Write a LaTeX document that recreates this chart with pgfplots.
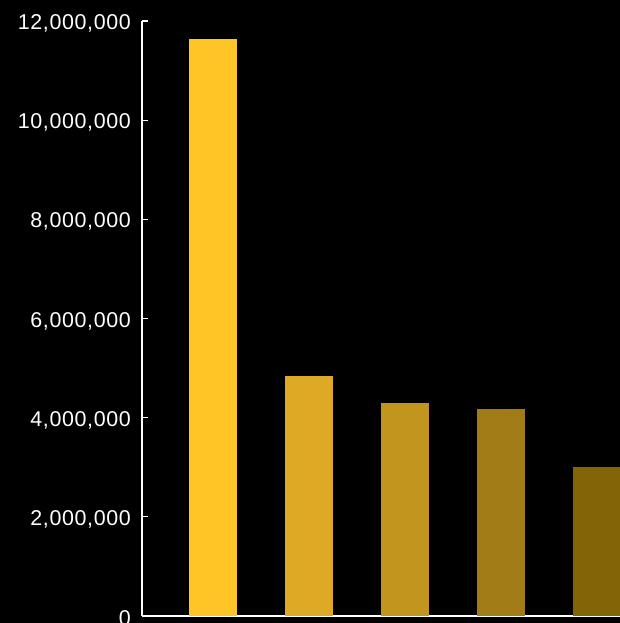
\documentclass[border=0pt]{standalone}
\usepackage{pgfplots}
\pgfplotsset{compat=1.18}
\usepackage{fontspec}
\setmainfont{Liberation Sans}[LetterSpace=3]

\definecolor{barA}{RGB}{255,196,38}
\definecolor{barB}{RGB}{222,170,38}
\definecolor{barC}{RGB}{194,149,30}
\definecolor{barD}{RGB}{161,124,22}
\definecolor{barE}{RGB}{131,101,8}

\begin{document}
\begin{tikzpicture}
\fill[black] (-142bp,-7bp) rectangle (478bp,616bp);
\begin{axis}[
  scale only axis,
  width=478bp, height=595bp,
  xmin=-0.74, xmax=4.24,
  ymin=0, ymax=12000000,
  axis x line=bottom, axis y line=left,
  axis line style={white, line width=1.3bp, -},
  xtick=\empty,
  ytick={0,2000000,4000000,6000000,8000000,10000000,12000000},
  tick style={white, line width=1.3bp},
  major tick length=6bp,
  tick align=inside,
  scaled y ticks=false,
  yticklabel style={
    /pgf/number format/fixed,
    /pgf/number format/1000 sep={,},
    /pgf/number format/assume math mode=true,
    font=\fontsize{21.5}{21.5}\selectfont, text=white,
    inner sep=0pt, xshift=-11bp, yshift=-2.5bp},
]
\addplot[ybar, bar width=0.5, fill=barA, draw=none] coordinates {(0,11640000)};
\addplot[ybar, bar width=0.5, fill=barB, draw=none] coordinates {(1,4840000)};
\addplot[ybar, bar width=0.5, fill=barC, draw=none] coordinates {(2,4300000)};
\addplot[ybar, bar width=0.5, fill=barD, draw=none] coordinates {(3,4180000)};
\addplot[ybar, bar width=0.5, fill=barE, draw=none] coordinates {(4,3005000)};
\end{axis}
\pgfresetboundingbox
\path[use as bounding box] (-142bp,-7bp) rectangle (478bp,616bp);
\end{tikzpicture}
\end{document}
